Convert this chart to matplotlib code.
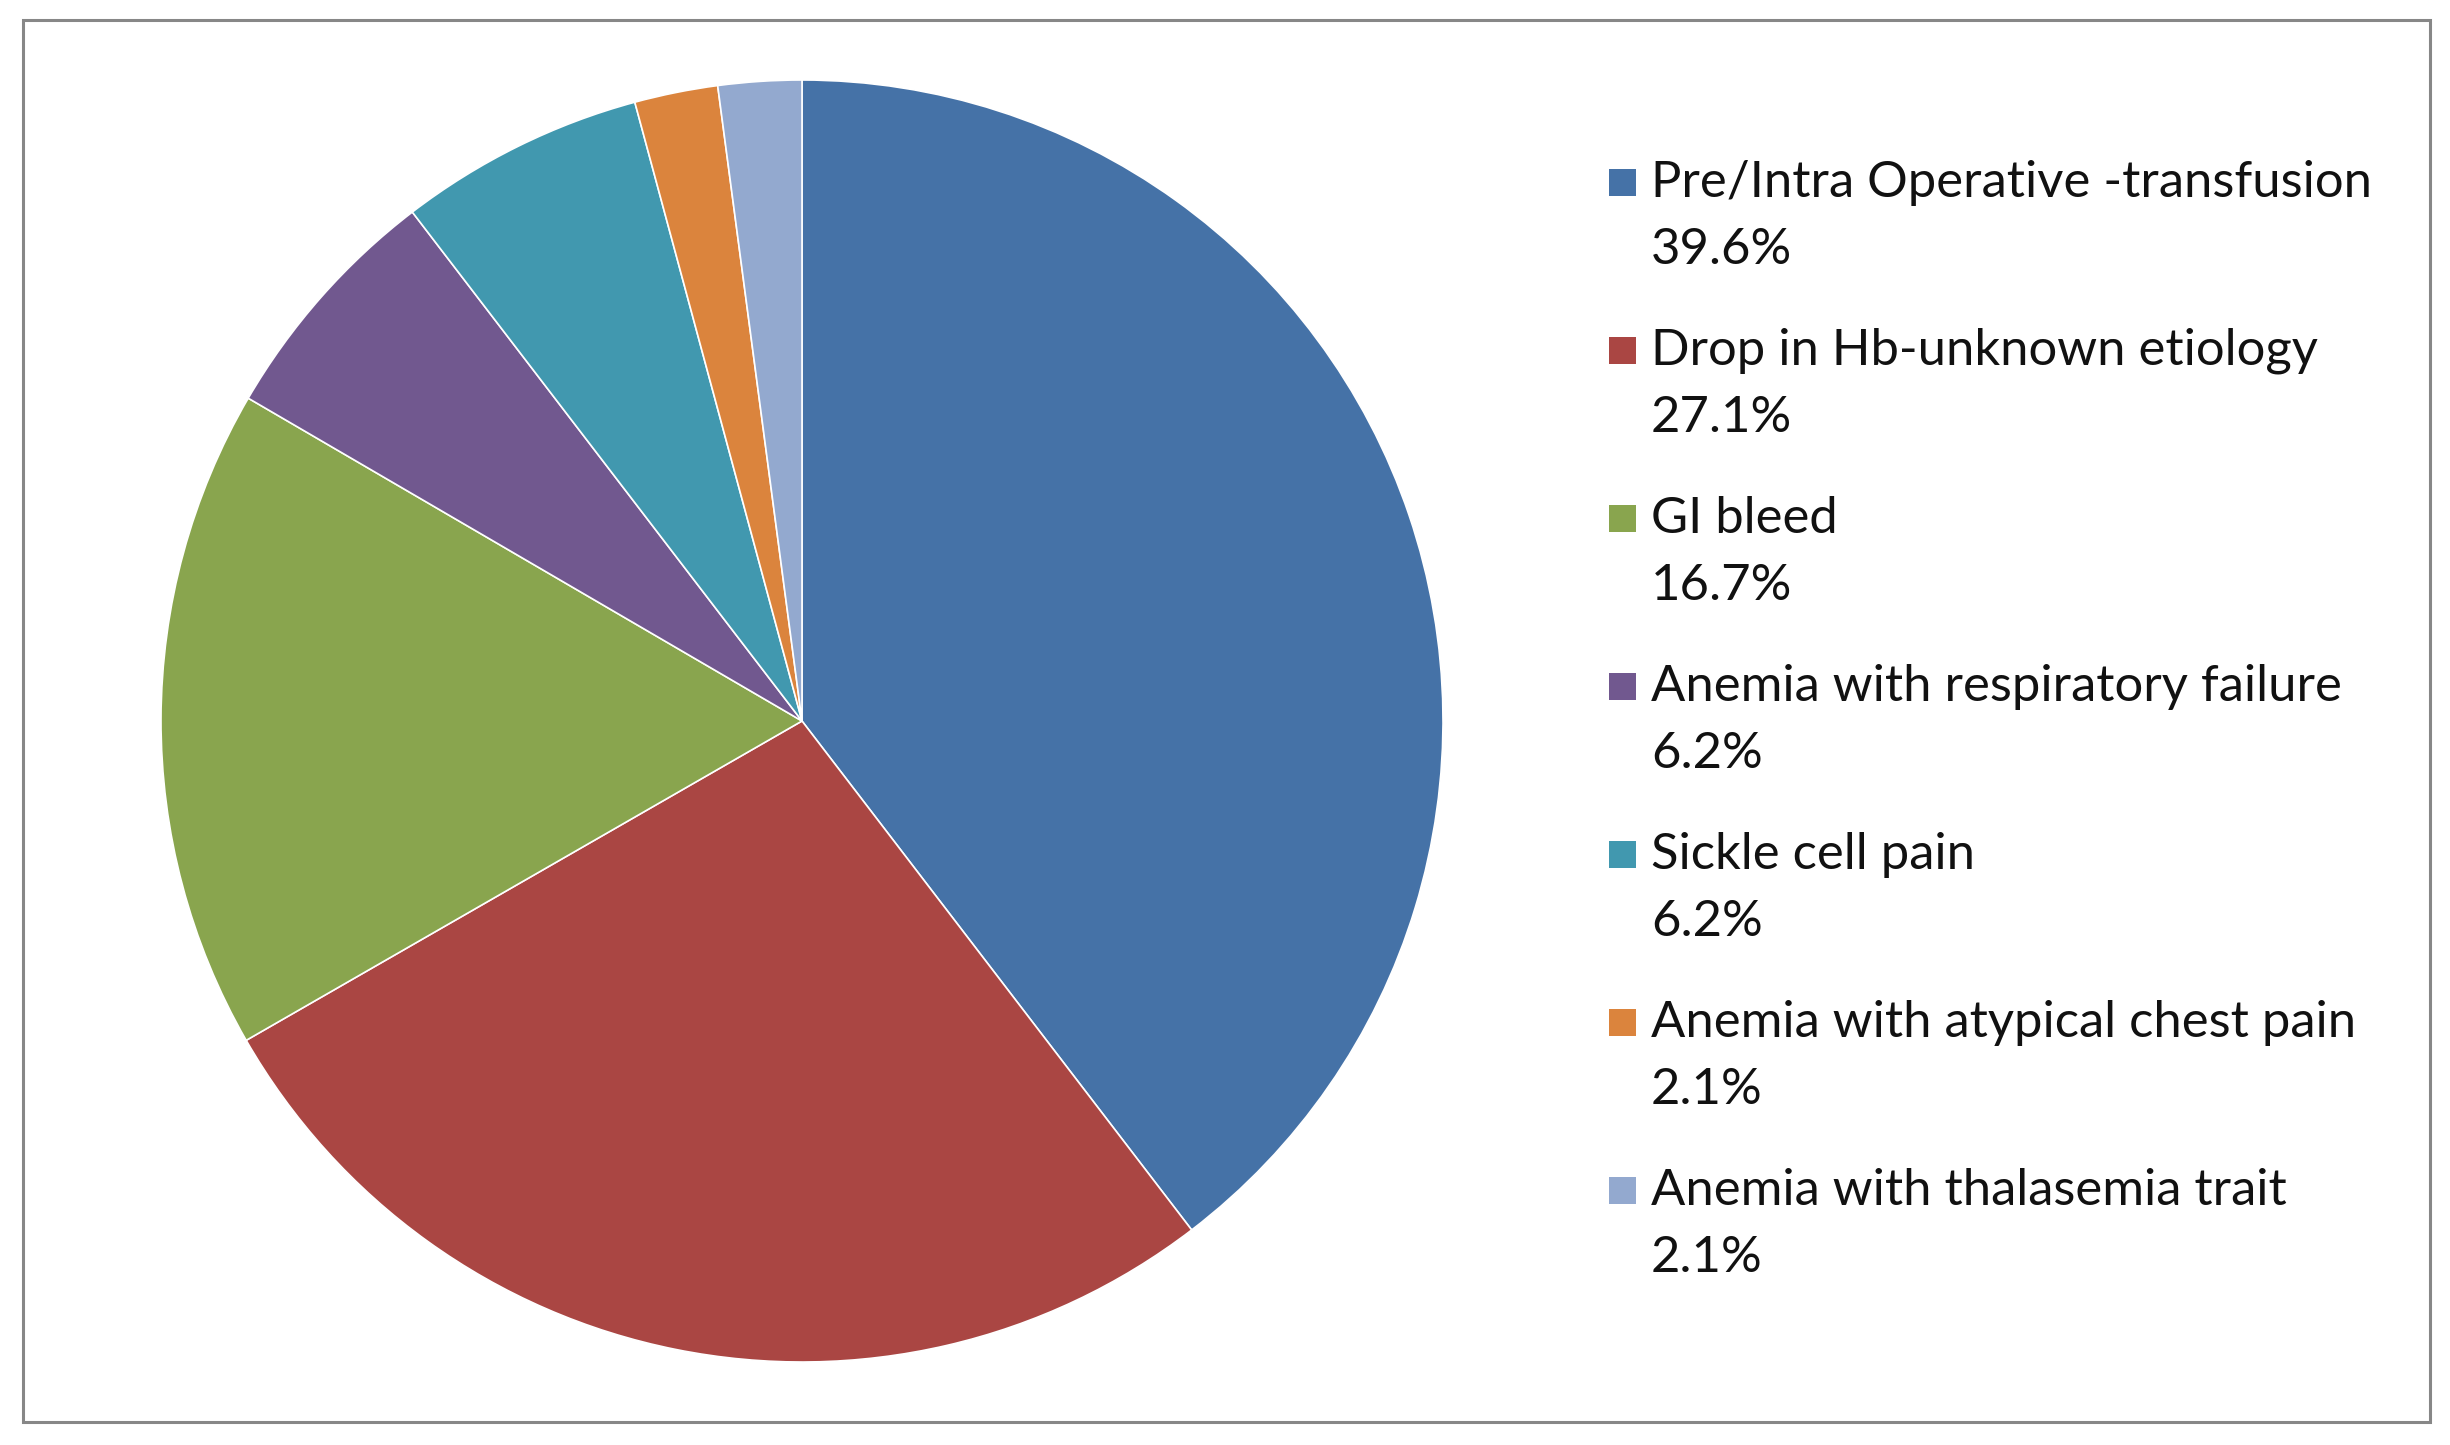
import matplotlib
matplotlib.use("Agg")
import matplotlib.pyplot as plt
from matplotlib.patches import Rectangle

categories = [
    "Pre/Intra Operative -transfusion",
    "Drop in Hb-unknown etiology",
    "GI bleed",
    "Anemia with respiratory failure",
    "Sickle cell pain",
    "Anemia with atypical chest pain",
    "Anemia with thalasemia trait",
]
values = [39.6, 27.1, 16.7, 6.2, 6.2, 2.1, 2.1]
pct_labels = ["39.6%", "27.1%", "16.7%", "6.2%", "6.2%", "2.1%", "2.1%"]
colors = ["#4572A7", "#AA4643", "#89A54E", "#71588F", "#4198AF", "#DB843D", "#93A9CF"]

plt.rcParams['font.family'] = ['Lato', 'DejaVu Sans']

W, H = 2450, 1445
fig = plt.figure(figsize=(W / 100, H / 100), dpi=100)
fig.patch.set_facecolor("white")

# outer frame
fig.patches.append(Rectangle((23 / W, 1 - 1422 / H), (2430 - 23) / W, (1422 - 20) / H,
                             transform=fig.transFigure, fill=False,
                             edgecolor="#878787", linewidth=2.2))

cx, cy, r = 802, 721, 641
ax = fig.add_axes([(cx - r) / W, 1 - (cy + r) / H, 2 * r / W, 2 * r / H])
ax.pie(values, colors=colors, startangle=90, counterclock=False, radius=1.0,
       wedgeprops=dict(edgecolor="white", linewidth=1.2))
ax.set_xlim(-1, 1)
ax.set_ylim(-1, 1)
ax.set_aspect("equal")
ax.axis("off")

# legend
y_first = 183
step = 168
line_gap = 67
fs = 36.5
for i, (cat, pl, col) in enumerate(zip(categories, pct_labels, colors)):
    y = y_first + i * step
    fig.patches.append(Rectangle((1609 / W, 1 - (y + 13) / H), 27 / W, 27 / H,
                                 transform=fig.transFigure, facecolor=col, edgecolor="none"))
    fig.text(1651 / W, 1 - y / H, cat, fontsize=fs, va="center", ha="left", color="#111111")
    fig.text(1651 / W, 1 - (y + line_gap) / H, pl, fontsize=fs, va="center", ha="left", color="#111111")

fig.savefig("out.png", dpi=100, facecolor="white")
